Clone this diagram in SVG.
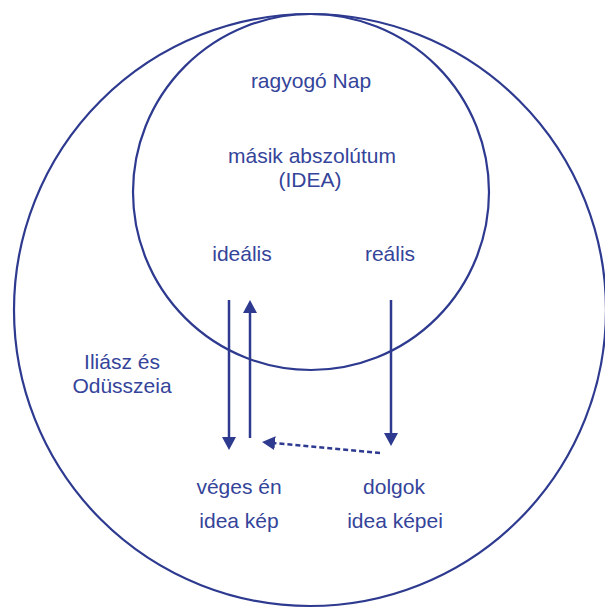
<svg xmlns="http://www.w3.org/2000/svg" width="605" height="608" viewBox="0 0 605 608">
<style>
.c{fill:none;stroke:#2d3a8f;stroke-width:2.2}
.a{fill:none;stroke:#2d3a8f;stroke-width:2.5}
.d{stroke-dasharray:5 3}
text{font-family:"Liberation Sans",Arial,sans-serif;font-size:21px;fill:#34449a;text-anchor:middle}
</style>
<defs>
<marker id="ah" markerUnits="userSpaceOnUse" viewBox="0 0 13 14" refX="0" refY="7" markerWidth="13" markerHeight="14" orient="auto">
<path d="M0,0 L13,7 L0,14 z" fill="#2d3a8f"/>
</marker>
</defs>
<rect width="605" height="608" fill="#ffffff"/>
<g id="outer"><circle class="c" cx="310" cy="310" r="296"/></g>
<g id="inner"><circle class="c" cx="311" cy="192" r="178"/></g>
<g id="n-nap"><text x="311" y="88">ragyogó Nap</text></g>
<g id="n-idea"><text x="312" y="163">másik abszolútum</text><text x="310" y="187">(IDEA)</text></g>
<g id="n-idealis"><text x="242" y="261">ideális</text></g>
<g id="n-realis"><text x="390" y="261">reális</text></g>
<g id="n-iliasz"><text x="122" y="369">Iliász és</text><text x="122" y="393">Odüsszeia</text></g>
<g id="n-veges"><text x="239" y="494">véges én</text><text x="239" y="528">idea kép</text></g>
<g id="n-dolgok"><text x="394" y="494">dolgok</text><text x="395" y="528">idea képei</text></g>
<g id="connectors">
<line class="a" x1="229" y1="300" x2="229" y2="437" marker-end="url(#ah)"/>
<line class="a" x1="250" y1="438" x2="250" y2="313" marker-end="url(#ah)"/>
<line class="a" x1="391" y1="300" x2="391" y2="433" marker-end="url(#ah)"/>
<line class="a d" x1="380" y1="453" x2="275" y2="443.2" marker-end="url(#ah)"/>
</g>
</svg>
